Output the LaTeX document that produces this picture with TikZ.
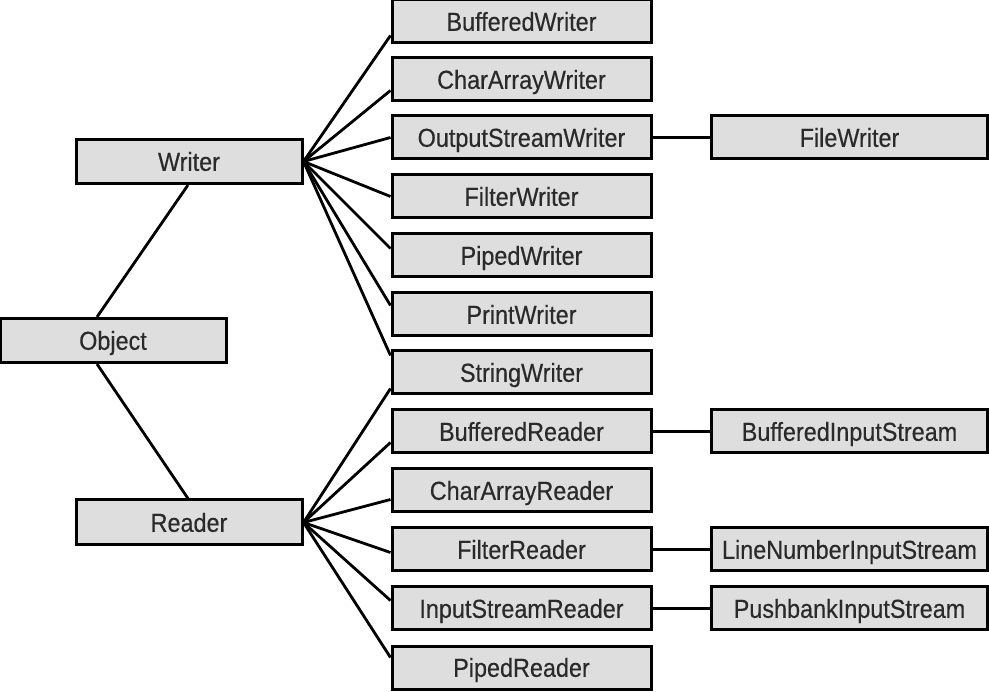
\documentclass[tikz,border=0pt]{standalone}
\usepackage{fontspec}
\setmainfont{Liberation Sans}[FakeStretch=0.9,FakeBold=0.4]
\begin{document}
\begin{tikzpicture}[x=1pt,y=-1pt,
  box/.style={draw=black, line width=3pt, fill=boxgray, rectangle, inner sep=0pt,
    minimum height=43pt, text height=18.6pt, text depth=0pt,
    text=textgray, font=\fontsize{26}{30}\selectfont},
  colbox/.style={box, minimum width=259pt},
  rbox/.style={box, minimum width=276pt},
  sbox/.style={box, minimum width=226pt},
  link/.style={draw=black, line width=2.8pt}]
\definecolor{boxgray}{HTML}{DEDEDE}
\definecolor{textgray}{HTML}{2A2A2A}
\useasboundingbox (0,0) rectangle (989,692);
% left nodes
\node[sbox, minimum height=44pt] (writer) at (189,161.5) {Writer};
\node[sbox, minimum height=44pt] (object) at (113,340.5) {Object};
\node[sbox, minimum height=45pt] (reader) at (189,522.5) {Reader};
% middle column
\node[colbox] (bw)  at (521.5,21.5)  {BufferedWriter};
\node[colbox] (caw) at (521.5,79.5)  {CharArrayWriter};
\node[colbox] (osw) at (521.5,137.5) {OutputStreamWriter};
\node[colbox] (fw)  at (521.5,196.5) {FilterWriter};
\node[colbox] (pw)  at (521.5,255.5) {PipedWriter};
\node[colbox] (prw) at (521.5,314.5) {PrintWriter};
\node[colbox] (sw)  at (521.5,372.5) {StringWriter};
\node[colbox] (br)  at (521.5,431.5) {BufferedReader};
\node[colbox] (car) at (521.5,490.5) {CharArrayReader};
\node[colbox] (fr)  at (521.5,549.5) {FilterReader};
\node[colbox] (isr) at (521.5,608.5) {InputStreamReader};
\node[colbox] (pr)  at (521.5,667.5) {PipedReader};
% right column
\node[rbox] (filew) at (849.5,137.5) {FileWriter};
\node[rbox] (bis)   at (849.5,431.5) {BufferedInputStream};
\node[rbox] (lnis)  at (849.5,549.5) {LineNumberInputStream};
\node[rbox] (pbis)  at (849.5,608.5) {PushbankInputStream};
% object links
\draw[link] ([xshift=-1pt]writer.south) -- ([xshift=-16pt]object.north);
\draw[link] ([xshift=-16pt]object.south) -- ([xshift=-1pt]reader.north);
% writer fan
\draw[link] (writer.east) -- ([yshift=-14pt]bw.west);
\draw[link] (writer.east) -- ([yshift=-11pt]caw.west);
\draw[link] (writer.east) -- (osw.west);
\draw[link] (writer.east) -- (fw.west);
\draw[link] (writer.east) -- ([yshift=7pt]pw.west);
\draw[link] (writer.east) -- ([yshift=9pt]prw.west);
\draw[link] (writer.east) -- ([yshift=17pt]sw.west);
% reader fan
\draw[link] (reader.east) -- ([yshift=-16pt]sw.west);
\draw[link] (reader.east) -- ([yshift=-11pt]br.west);
\draw[link] (reader.east) -- ([yshift=-9pt]car.west);
\draw[link] (reader.east) -- ([yshift=-3pt]fr.west);
\draw[link] (reader.east) -- ([yshift=8pt]isr.west);
\draw[link] (reader.east) -- ([yshift=10pt]pr.west);
% horizontal links
\draw[link] (osw.east) -- (filew.west);
\draw[link] (br.east) -- (bis.west);
\draw[link] (fr.east) -- (lnis.west);
\draw[link] (isr.east) -- (pbis.west);
\end{tikzpicture}
\end{document}
